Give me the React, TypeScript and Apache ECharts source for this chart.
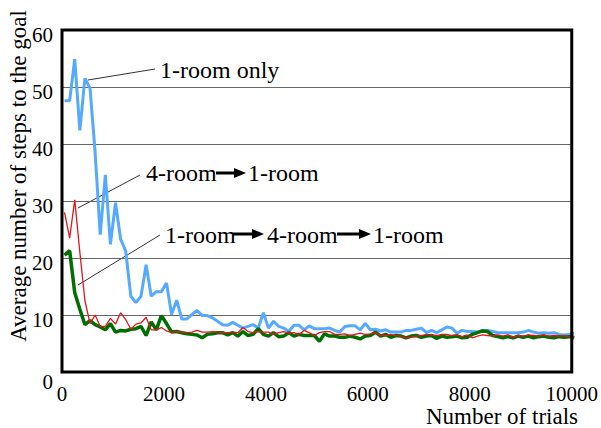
import React, { useEffect, useRef } from "react";
import * as echarts from "echarts";

// Trials sampled every 100 (bin centres)
const trials: number[] = Array.from({ length: 101 }, (_, i) => 50 + 100 * i);

const oneRoomOnly: number[] = [
  47.6, 47.6, 54.9, 42.4, 51.5, 49.8, 38.5, 24.1, 34.6, 22.4,
  29.7, 23.3, 21.2, 13.3, 12.2, 13.3, 18.8, 13.3, 14.1, 14.1,
  15.6, 10.1, 12.6, 9.3, 9.3, 10.1, 10.8, 9.9, 9.9, 9.5,
  8.9, 8.3, 8.2, 8.7, 8.2, 7.7, 8.0, 8.3, 7.7, 10.4,
  7.7, 8.9, 8.0, 7.7, 7.1, 8.2, 8.2, 7.4, 8.1, 7.6,
  7.6, 7.6, 7.7, 7.3, 7.0, 8.0, 8.1, 8.1, 7.4, 8.5,
  7.4, 7.5, 7.2, 7.4, 7.0, 7.0, 7.0, 7.3, 7.3, 7.5,
  7.7, 6.9, 7.3, 6.9, 7.4, 7.9, 7.7, 6.8, 7.3, 7.1,
  7.1, 7.0, 7.3, 7.3, 7.1, 6.9, 6.9, 6.9, 6.9, 6.9,
  7.0, 7.3, 7.0, 6.8, 6.9, 6.8, 6.9, 6.6, 6.5, 6.6,
  6.8,
];

const fourToOne: number[] = [
  28.0, 23.5, 30.2, 21.0, 12.5, 8.5, 10.0, 8.0, 8.0, 9.4,
  8.4, 10.4, 9.2, 7.5, 8.4, 8.6, 9.6, 7.4, 7.4, 7.8,
  7.2, 6.9, 7.1, 7.0, 6.9, 7.0, 7.3, 7.0, 7.0, 7.1,
  7.0, 6.9, 6.9, 7.0, 6.9, 7.8, 7.1, 6.9, 7.1, 7.0,
  7.0, 6.6, 6.9, 7.1, 6.8, 6.9, 6.6, 7.3, 6.9, 6.4,
  6.9, 7.1, 7.1, 6.6, 6.6, 6.7, 6.4, 6.6, 6.8, 6.6,
  6.7, 6.9, 6.4, 6.4, 6.6, 6.4, 6.3, 6.0, 6.1, 6.3,
  6.4, 6.6, 6.5, 6.4, 6.6, 6.6, 6.4, 6.5, 6.2, 6.5,
  6.0, 6.3, 6.5, 6.4, 6.3, 6.5, 6.3, 6.5, 6.1, 6.4,
  6.3, 6.5, 6.4, 6.3, 6.5, 6.3, 6.4, 6.3, 6.4, 6.2,
  6.3,
];

const oneFourOne: number[] = [
  20.5, 21.3, 13.9, 11.0, 8.3, 9.0, 8.3, 7.9, 7.4, 8.5,
  7.0, 7.3, 7.2, 7.5, 7.6, 8.0, 6.4, 8.8, 7.4, 9.9,
  8.5, 7.0, 7.1, 6.9, 6.7, 6.6, 6.5, 6.0, 6.6, 6.7,
  6.9, 6.9, 6.5, 6.9, 6.3, 7.1, 6.4, 6.6, 7.6, 6.6,
  6.3, 6.9, 6.2, 6.3, 6.9, 6.3, 6.6, 6.4, 6.4, 6.4,
  5.4, 6.7, 6.3, 6.3, 6.1, 6.1, 6.3, 6.1, 5.8, 6.3,
  6.4, 7.0, 6.3, 6.6, 6.1, 6.4, 6.3, 6.0, 6.3, 6.4,
  6.1, 6.3, 6.4, 5.9, 6.3, 6.1, 6.2, 6.3, 6.0, 6.1,
  6.6, 6.9, 7.2, 7.1, 6.4, 6.2, 6.0, 6.2, 6.0, 6.3,
  6.1, 6.3, 6.0, 6.2, 6.3, 6.1, 6.0, 6.2, 6.1, 6.2,
  6.0,
];

const xTicks = { min: 0, max: 10000, interval: 2000 };
const yTicks = { min: 0, max: 60, interval: 10 };

const FONT = "'Liberation Serif', 'Times New Roman', Times, serif";

function arrow(x1: number, x2: number, y: number) {
  return [
    {
      type: "line",
      shape: { x1, y1: y, x2: x2 - 8, y2: y },
      style: { stroke: "#000", lineWidth: 3 },
    },
    {
      type: "polygon",
      shape: { points: [[x2 - 12, y - 5], [x2, y], [x2 - 12, y + 5]] },
      style: { fill: "#000" },
    },
  ];
}

function label(text: string, x: number, y: number) {
  return {
    type: "text",
    style: {
      text,
      x,
      y,
      align: "left",
      verticalAlign: "middle",
      font: `24px ${FONT}`,
      fill: "#000",
    },
  };
}

function leader(x1: number, y1: number, x2: number, y2: number) {
  return {
    type: "line",
    shape: { x1, y1, x2, y2 },
    style: { stroke: "#333", lineWidth: 1 },
  };
}

export default function App() {
  const ref = useRef<HTMLDivElement>(null);
  useEffect(() => {
    if (!ref.current) return;
    document.body.style.margin = "0";
    const chart = echarts.init(ref.current, undefined, { renderer: "svg" });
    const pairs = (vals: number[]) => vals.map((v, i) => [trials[i], v]);
    chart.setOption({
      animation: false,
      backgroundColor: "#fff",
      grid: {
        left: 62,
        top: 30,
        width: 513,
        height: 342,
        show: true,
        borderColor: "#000",
        borderWidth: 3,
        z: 10,
      },
      xAxis: {
        type: "value",
        min: xTicks.min,
        max: xTicks.max,
        interval: xTicks.interval,
        axisLine: { show: false },
        axisTick: { show: false },
        splitLine: { show: false },
        axisLabel: {
          margin: 11,
          formatter: (v: number) => String(v),
          fontFamily: FONT,
          fontSize: 21,
          color: "#000",
        },
      },
      yAxis: {
        type: "value",
        min: yTicks.min,
        max: yTicks.max,
        interval: yTicks.interval,
        axisLine: { show: false },
        axisTick: { show: false },
        splitLine: { show: true, lineStyle: { color: "#666", width: 1 } },
        axisLabel: {
          margin: 9,
          formatter: (v: number) => (v === 0 ? "{z|0}" : `{n|${v}}`),
          rich: {
            n: { fontFamily: FONT, fontSize: 21, color: "#000", padding: [9, 0, 0, 0] },
            z: { fontFamily: FONT, fontSize: 21, color: "#000", padding: [20, 0, 0, 0] },
          },
        },
      },
      series: [
        {
          name: "1-room only",
          type: "line",
          data: pairs(oneRoomOnly),
          showSymbol: false,
          clip: false,
          lineStyle: { color: "#55aaff", width: 3 },
          z: 2,
        },
        {
          name: "1-room → 4-room → 1-room",
          type: "line",
          data: pairs(oneFourOne),
          showSymbol: false,
          clip: false,
          lineStyle: { color: "#006e00", width: 3.5 },
          z: 3,
        },
        {
          name: "4-room → 1-room",
          type: "line",
          data: pairs(fourToOne),
          showSymbol: false,
          clip: false,
          lineStyle: { color: "#e4161c", width: 1.3 },
          z: 4,
        },
      ],
      graphic: [
        {
          type: "text",
          rotation: Math.PI / 2,
          x: 18,
          y: 176,
          style: {
            text: "Average number of steps to the goal",
            align: "center",
            verticalAlign: "middle",
            font: `23px ${FONT}`,
            fill: "#000",
          },
        },
        {
          type: "text",
          style: {
            text: "Number of trials",
            x: 578,
            y: 416,
            align: "right",
            verticalAlign: "middle",
            font: `23px ${FONT}`,
            fill: "#000",
          },
        },
        leader(88, 80, 155, 69),
        label("1-room only", 160, 70),
        leader(78, 208, 140, 175),
        label("4-room", 146, 173),
        ...arrow(216, 246, 173),
        label("1-room", 248, 173),
        leader(78, 285, 160, 235),
        label("1-room", 165, 235),
        ...arrow(233, 264, 234),
        label("4-room", 267, 235),
        ...arrow(337, 371, 234),
        label("1-room", 373, 235),
      ],
    });
    return () => chart.dispose();
  }, []);
  return <div ref={ref} style={{ width: 601, height: 428 }} />;
}
